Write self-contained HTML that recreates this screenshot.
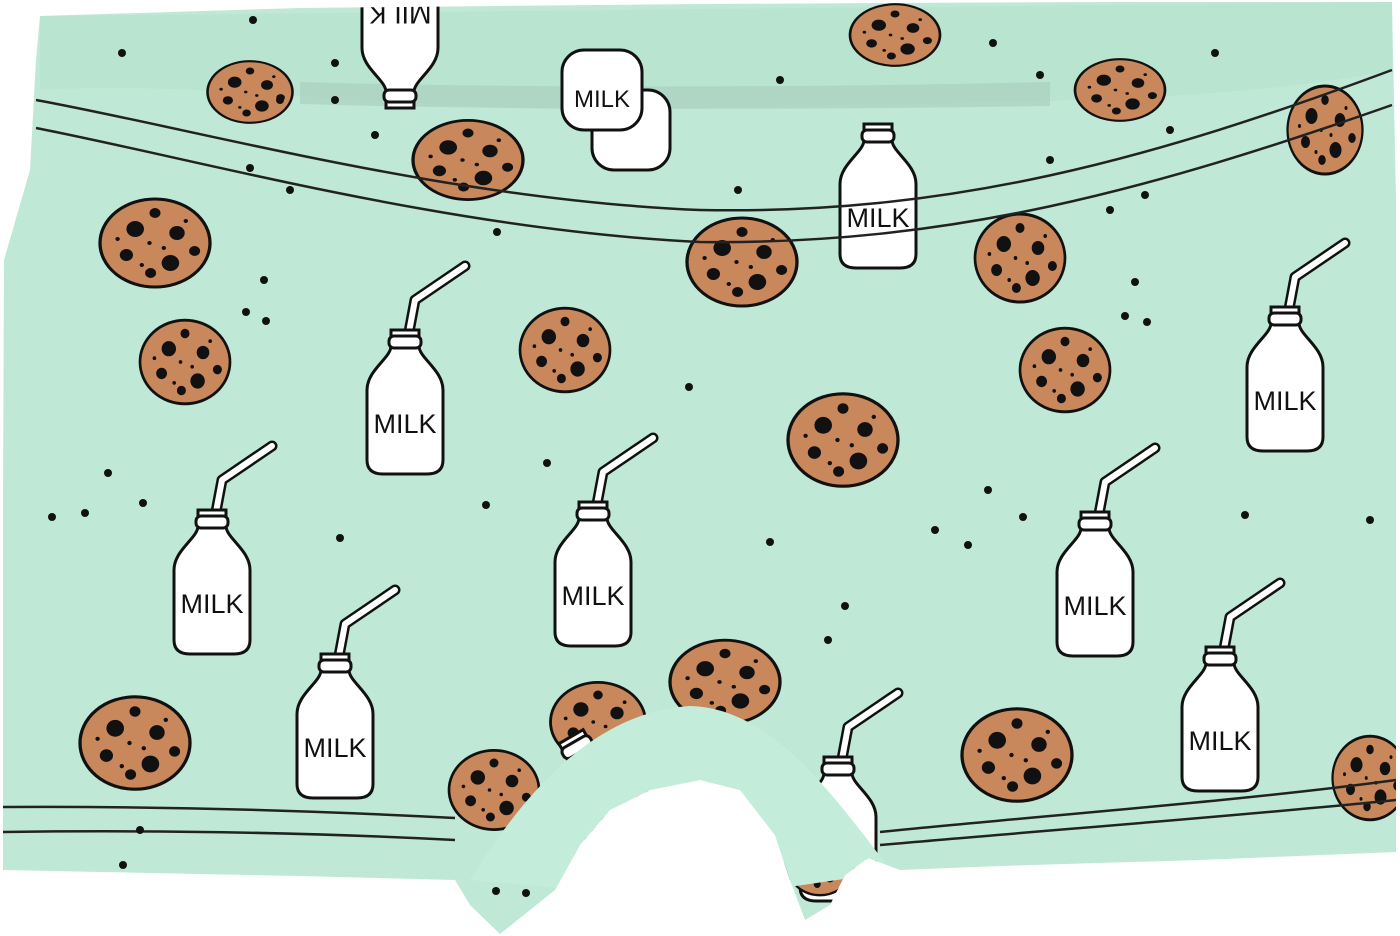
<!DOCTYPE html>
<html><head><meta charset="utf-8"><style>
html,body{margin:0;padding:0;background:#fff;}
svg{display:block;}
text{font-family:"Liberation Sans",sans-serif;}
</style></head><body>
<svg width="1400" height="936" viewBox="0 0 1400 936" xmlns="http://www.w3.org/2000/svg">
<defs>
<clipPath id="shape"><path id="outline" d="M40,16 L300,8 L700,4 L1100,2 L1392,2 L1396,200 L1396,600 L1396,852 L1200,860 L1000,866 L900,870 L868,858 L845,875 L830,905 L805,920 L790,880 L775,835 L740,790 L700,780 L650,790 L610,810 L580,845 L555,890 L500,934 L470,905 L455,880 L300,876 L100,872 L3,870 L3,500 L4,260 L30,170 L36,60 Z"/></clipPath>
<g id="cookie">
<ellipse cx="0" cy="0" rx="50" ry="44" fill="#c9875c" stroke="#111" stroke-width="3"/>
<circle cx="-18" cy="-14" r="8" fill="#111"/><circle cx="20" cy="-10" r="7" fill="#111"/>
<circle cx="-26" cy="12" r="6" fill="#111"/><circle cx="14" cy="20" r="8" fill="#111"/><circle cx="-4" cy="30" r="5" fill="#111"/>
<circle cx="0" cy="-30" r="5" fill="#111"/><circle cx="36" cy="8" r="5" fill="#111"/>
<circle cx="-5" cy="0" r="2" fill="#111"/><circle cx="8" cy="5" r="2" fill="#111"/><circle cx="-12" cy="22" r="2" fill="#111"/><circle cx="28" cy="-22" r="2" fill="#111"/><circle cx="-34" cy="-4" r="2" fill="#111"/>
</g>
<g id="straw">
<path d="M4,4 L10,-28 L60,-62" fill="none" stroke="#111" stroke-width="11" stroke-linecap="round" stroke-linejoin="round"/>
<path d="M4,4 L10,-28 L60,-62" fill="none" stroke="#fff" stroke-width="6" stroke-linecap="round" stroke-linejoin="round"/>
</g>
<g id="body">
<path d="M-14,2 L14,2 L14,18 C14,30 38,42 38,62 L38,132 C38,142 32,146 22,146 L-22,146 C-32,146 -38,142 -38,132 L-38,62 C-38,42 -14,30 -14,18 Z" fill="#fff" stroke="#111" stroke-width="3"/>
<rect x="-16" y="8" width="32" height="12" rx="5" fill="#fff" stroke="#111" stroke-width="3"/>
<text x="0" y="105" font-size="27" text-anchor="middle" fill="#111">MILK</text>
</g>
<g id="bottle"><use href="#straw"/><use href="#body"/></g>
</defs>
<use href="#outline" fill="#bfe9d6"/>
<g clip-path="url(#shape)">
<path d="M40,16 L1392,2 L1392,70 C1200,110 900,100 600,110 C400,110 200,80 40,90 Z" fill="#b8e4d0"/>
<path d="M300,82 C500,88 800,88 1050,82 L1050,106 C800,110 500,110 300,104 Z" fill="#a9ccbd" opacity="0.6"/>
<use href="#body" transform="translate(400,110) rotate(180)"/>
<use href="#cookie" transform="translate(250,92) scale(0.85,0.7)"/>
<use href="#cookie" transform="translate(895,35) scale(0.9,0.7)"/>
<use href="#cookie" transform="translate(1120,90) scale(0.9,0.7)"/>
<rect x="592" y="90" width="78" height="80" rx="22" fill="#fff" stroke="#111" stroke-width="3"/>
<rect x="562" y="50" width="80" height="80" rx="22" fill="#fff" stroke="#111" stroke-width="3"/>
<text x="602" y="107" font-size="24" text-anchor="middle" fill="#111">MILK</text>
<use href="#cookie" transform="translate(155,243) scale(1.1,1)"/>
<use href="#cookie" transform="translate(185,362) scale(0.9,0.95)"/>
<use href="#cookie" transform="translate(468,160) scale(1.1,0.9)"/>
<use href="#cookie" transform="translate(565,350) scale(0.9,0.95)"/>
<use href="#cookie" transform="translate(742,262) scale(1.1,1)"/>
<use href="#cookie" transform="translate(843,440) scale(1.1,1.05)"/>
<use href="#cookie" transform="translate(1020,258) scale(0.9,1)"/>
<use href="#cookie" transform="translate(1065,370) scale(0.9,0.95)"/>
<use href="#cookie" transform="translate(1325,130) scale(0.75,1)"/>
<use href="#cookie" transform="translate(135,743) scale(1.1,1.05)"/>
<use href="#cookie" transform="translate(1017,755) scale(1.1,1.05)"/>
<use href="#cookie" transform="translate(725,682) scale(1.1,0.95)"/>
<use href="#cookie" transform="translate(598,722) scale(0.95,0.9)"/>
<use href="#cookie" transform="translate(494,790) scale(0.9,0.9)"/>
<use href="#cookie" transform="translate(1370,778) scale(0.75,0.95)"/>
<use href="#bottle" transform="translate(405,328)"/>
<use href="#bottle" transform="translate(212,508)"/>
<use href="#bottle" transform="translate(593,500)"/>
<use href="#bottle" transform="translate(335,652)"/>
<use href="#bottle" transform="translate(1095,510)"/>
<use href="#bottle" transform="translate(1285,305)"/>
<use href="#bottle" transform="translate(1220,645)"/>
<use href="#body" transform="translate(878,122)"/>
<use href="#bottle" transform="translate(838,755)"/>
<use href="#cookie" transform="translate(820,860) scale(0.7,0.8)"/>
<use href="#body" transform="translate(570,735) rotate(-30)"/>
<path d="M470,880 C520,800 590,712 690,706 C770,708 830,790 892,872 L700,900 Z" fill="#c4ecdb"/>
<g fill="none" stroke="#222" stroke-width="2.5">
<path d="M36,100 C200,130 450,200 700,210 C950,215 1150,160 1392,70"/>
<path d="M36,128 C200,160 450,230 700,242 C950,245 1150,190 1392,105"/>
<path d="M0,807 C150,806 300,810 455,818"/>
<path d="M0,832 C150,830 300,832 455,840"/>
<path d="M880,832 C1050,815 1250,800 1396,780"/>
<path d="M880,845 C1050,830 1250,815 1396,800"/>
</g>
<g fill="#111">
<circle cx="253" cy="20" r="4"/><circle cx="335" cy="63" r="4"/><circle cx="122" cy="53" r="4"/><circle cx="280" cy="100" r="4"/><circle cx="250" cy="168" r="4"/><circle cx="290" cy="190" r="4"/><circle cx="375" cy="135" r="4"/><circle cx="335" cy="100" r="4"/>
<circle cx="738" cy="190" r="4"/><circle cx="993" cy="43" r="4"/><circle cx="1040" cy="75" r="4"/><circle cx="1215" cy="53" r="4"/><circle cx="1170" cy="130" r="4"/><circle cx="1145" cy="195" r="4"/><circle cx="1110" cy="210" r="4"/><circle cx="1050" cy="160" r="4"/><circle cx="780" cy="80" r="4"/>
<circle cx="264" cy="280" r="4"/><circle cx="246" cy="312" r="4"/><circle cx="266" cy="321" r="4"/><circle cx="497" cy="232" r="4"/><circle cx="689" cy="387" r="4"/><circle cx="1135" cy="282" r="4"/><circle cx="1125" cy="316" r="4"/><circle cx="1147" cy="322" r="4"/>
<circle cx="108" cy="473" r="4"/><circle cx="52" cy="517" r="4"/><circle cx="85" cy="513" r="4"/><circle cx="143" cy="503" r="4"/><circle cx="340" cy="538" r="4"/><circle cx="486" cy="505" r="4"/><circle cx="547" cy="463" r="4"/>
<circle cx="770" cy="542" r="4"/><circle cx="845" cy="606" r="4"/><circle cx="828" cy="640" r="4"/><circle cx="935" cy="530" r="4"/><circle cx="968" cy="545" r="4"/><circle cx="988" cy="490" r="4"/><circle cx="1023" cy="517" r="4"/><circle cx="1245" cy="515" r="4"/><circle cx="1370" cy="520" r="4"/>
<circle cx="140" cy="830" r="4"/><circle cx="123" cy="865" r="4"/><circle cx="496" cy="891" r="4"/><circle cx="526" cy="893" r="4"/>
</g>
</g>
</svg>
</body></html>
